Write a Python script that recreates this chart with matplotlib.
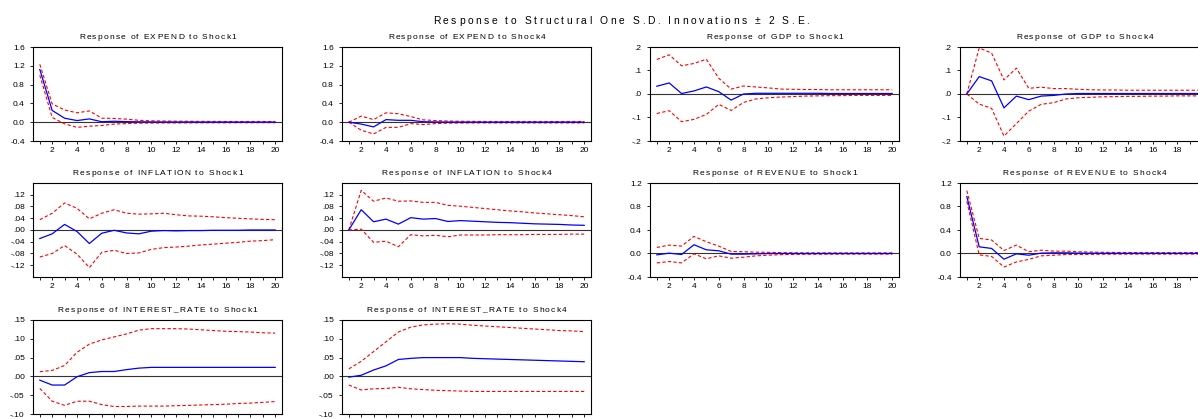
import matplotlib
matplotlib.use("Agg")
import matplotlib.pyplot as plt
from matplotlib.ticker import FixedLocator, MultipleLocator, FuncFormatter
from matplotlib.font_manager import findfont, FontProperties
from matplotlib import ft2font

plt.rcParams['font.family'] = ['Liberation Sans', 'DejaVu Sans']

periods = list(range(1, 21))

# EXPEND to Shock1
expend_s1 = [1.12, 0.25, 0.085, 0.035, 0.07, 0.01, 0.02, 0.012, 0.008, 0.006,
             0.005, 0.004, 0.004, 0.003, 0.003, 0.003, 0.002, 0.002, 0.002, 0.002]
expend_s1_hi = [1.23, 0.39, 0.26, 0.20, 0.24, 0.085, 0.08, 0.065, 0.04, 0.03,
                0.025, 0.022, 0.02, 0.018, 0.017, 0.016, 0.015, 0.015, 0.015, 0.015]
expend_s1_lo = [1.0, 0.10, -0.035, -0.11, -0.085, -0.07, -0.04, -0.03, -0.02, -0.018,
                -0.016, -0.015, -0.014, -0.013, -0.012, -0.012, -0.011, -0.011, -0.01, -0.01]

# EXPEND to Shock4
expend_s4 = [0.0, -0.04, -0.10, 0.055, 0.04, 0.04, 0.01, 0.005, 0.003, 0.002,
             0.002, 0.001, 0.001, 0.001, 0.001, 0.001, 0.001, 0.001, 0.001, 0.001]
expend_s4_hi = [0.0, 0.13, 0.055, 0.20, 0.18, 0.12, 0.05, 0.035, 0.025, 0.02,
                0.018, 0.016, 0.015, 0.015, 0.015, 0.015, 0.015, 0.015, 0.015, 0.015]
expend_s4_lo = [0.0, -0.17, -0.25, -0.11, -0.11, -0.03, -0.05, -0.03, -0.02, -0.018,
                -0.016, -0.015, -0.015, -0.015, -0.015, -0.015, -0.015, -0.015, -0.015, -0.015]

# GDP to Shock1
gdp_s1 = [0.033, 0.047, 0.002, 0.013, 0.03, 0.01, -0.026, 0.0, 0.003, 0.003,
          0.003, 0.003, 0.003, 0.003, 0.002, 0.002, 0.002, 0.002, 0.002, 0.002]
gdp_s1_hi = [0.147, 0.167, 0.12, 0.13, 0.148, 0.067, 0.021, 0.034, 0.03, 0.026,
             0.021, 0.02, 0.019, 0.019, 0.018, 0.018, 0.018, 0.018, 0.018, 0.018]
gdp_s1_lo = [-0.083, -0.071, -0.118, -0.108, -0.087, -0.044, -0.07, -0.036, -0.021, -0.016,
             -0.013, -0.011, -0.009, -0.008, -0.007, -0.007, -0.006, -0.006, -0.006, -0.006]

# GDP to Shock4
gdp_s4 = [0.0, 0.074, 0.056, -0.059, -0.009, -0.024, -0.009, -0.006, 0.0, 0.002,
          0.002, 0.002, 0.002, 0.002, 0.002, 0.002, 0.002, 0.002, 0.002, 0.002]
gdp_s4_hi = [0.0, 0.196, 0.174, 0.06, 0.11, 0.024, 0.029, 0.023, 0.023, 0.02,
             0.018, 0.017, 0.017, 0.016, 0.016, 0.016, 0.016, 0.016, 0.016, 0.016]
gdp_s4_lo = [0.0, -0.043, -0.061, -0.179, -0.126, -0.073, -0.044, -0.037, -0.021, -0.016,
             -0.014, -0.012, -0.011, -0.01, -0.01, -0.009, -0.009, -0.008, -0.008, -0.008]

# INFLATION to Shock1
infl_s1 = [-0.029, -0.013, 0.019, -0.005, -0.046, -0.011, -0.001, -0.01, -0.013, -0.004,
           -0.002, -0.003, -0.002, -0.002, -0.001, -0.001, -0.001, 0.0, 0.0, 0.0]
infl_s1_hi = [0.035, 0.057, 0.092, 0.074, 0.038, 0.057, 0.069, 0.057, 0.054, 0.055,
              0.057, 0.052, 0.048, 0.047, 0.045, 0.042, 0.040, 0.038, 0.036, 0.035]
infl_s1_lo = [-0.092, -0.08, -0.053, -0.082, -0.128, -0.076, -0.069, -0.08, -0.078, -0.066,
              -0.06, -0.058, -0.055, -0.051, -0.048, -0.045, -0.042, -0.038, -0.036, -0.033]

# INFLATION to Shock4
infl_s4 = [0.0, 0.069, 0.028, 0.037, 0.02, 0.042, 0.037, 0.039, 0.029, 0.032,
           0.03, 0.028, 0.026, 0.025, 0.023, 0.021, 0.02, 0.019, 0.017, 0.016]
infl_s4_hi = [0.0, 0.135, 0.098, 0.109, 0.098, 0.099, 0.094, 0.094, 0.084, 0.081,
              0.077, 0.073, 0.069, 0.065, 0.062, 0.058, 0.055, 0.052, 0.049, 0.045]
infl_s4_lo = [0.0, 0.003, -0.042, -0.038, -0.057, -0.016, -0.02, -0.018, -0.023, -0.017,
              -0.017, -0.017, -0.016, -0.016, -0.016, -0.015, -0.015, -0.015, -0.014, -0.014]

# REVENUE to Shock1
rev_s1 = [-0.023, 0.006, -0.017, 0.149, 0.063, 0.046, -0.011, -0.011, -0.006, 0.0,
          0.0, 0.0, 0.0, 0.0, 0.0, 0.0, 0.0, 0.0, 0.0, 0.0]
rev_s1_hi = [0.103, 0.143, 0.126, 0.291, 0.2, 0.126, 0.034, 0.03, 0.023, 0.02,
             0.015, 0.012, 0.011, 0.01, 0.01, 0.01, 0.01, 0.01, 0.01, 0.01]
rev_s1_lo = [-0.16, -0.137, -0.16, -0.006, -0.09, -0.04, -0.08, -0.063, -0.04, -0.029,
             -0.02, -0.015, -0.013, -0.012, -0.011, -0.01, -0.01, -0.01, -0.01, -0.01]

# REVENUE to Shock4
rev_s4 = [0.97, 0.114, 0.086, -0.097, -0.006, -0.029, 0.006, 0.011, 0.011, 0.006,
          0.005, 0.004, 0.004, 0.003, 0.003, 0.003, 0.003, 0.003, 0.003, 0.003]
rev_s4_hi = [1.07, 0.257, 0.23, 0.05, 0.143, 0.03, 0.057, 0.04, 0.04, 0.03,
             0.025, 0.02, 0.018, 0.016, 0.015, 0.015, 0.015, 0.015, 0.015, 0.015]
rev_s4_lo = [0.886, -0.023, -0.05, -0.23, -0.143, -0.1, -0.04, -0.03, -0.017, -0.017,
             -0.015, -0.012, -0.011, -0.01, -0.01, -0.01, -0.01, -0.01, -0.01, -0.01]

# INTEREST_RATE to Shock1
ir_s1 = [-0.01, -0.023, -0.023, -0.001, 0.01, 0.013, 0.013, 0.018, 0.022, 0.024,
         0.024, 0.024, 0.024, 0.024, 0.024, 0.024, 0.024, 0.024, 0.024, 0.024]
ir_s1_hi = [0.0125, 0.016, 0.029, 0.064, 0.086, 0.097, 0.105, 0.113, 0.123, 0.127,
            0.127, 0.127, 0.126, 0.124, 0.122, 0.12, 0.119, 0.118, 0.116, 0.115]
ir_s1_lo = [-0.032, -0.066, -0.077, -0.066, -0.066, -0.075, -0.08, -0.08, -0.079, -0.079,
            -0.079, -0.078, -0.077, -0.076, -0.075, -0.074, -0.072, -0.071, -0.069, -0.067]

# INTEREST_RATE to Shock4
ir_s4 = [-0.002, 0.003, 0.017, 0.028, 0.045, 0.048, 0.05, 0.05, 0.05, 0.05,
         0.048, 0.047, 0.046, 0.045, 0.044, 0.043, 0.042, 0.041, 0.04, 0.039]
ir_s4_hi = [0.02, 0.04, 0.066, 0.092, 0.118, 0.131, 0.137, 0.139, 0.14, 0.139,
            0.136, 0.134, 0.132, 0.13, 0.128, 0.126, 0.124, 0.122, 0.121, 0.119]
ir_s4_lo = [-0.023, -0.036, -0.033, -0.032, -0.029, -0.033, -0.035, -0.037, -0.038, -0.039,
            -0.04, -0.04, -0.04, -0.04, -0.04, -0.04, -0.04, -0.04, -0.04, -0.04]

# y tick values and labels per variable (eviews style)
ticks_expend = [-0.4, 0.0, 0.4, 0.8, 1.2, 1.6]
labels_expend = ["-0.4", "0.0", "0.4", "0.8", "1.2", "1.6"]
ticks_gdp = [-0.2, -0.1, 0.0, 0.1, 0.2]
labels_gdp = ["-.2", "-.1", ".0", ".1", ".2"]
ticks_infl = [-0.12, -0.08, -0.04, 0.0, 0.04, 0.08, 0.12]
labels_infl = ["-.12", "-.08", "-.04", ".00", ".04", ".08", ".12"]
ticks_rev = [-0.4, 0.0, 0.4, 0.8, 1.2]
labels_rev = ["-0.4", "0.0", "0.4", "0.8", "1.2"]
ticks_ir = [-0.10, -0.05, 0.0, 0.05, 0.10, 0.15]
labels_ir = ["-.10", "-.05", ".00", ".05", ".10", ".15"]

panels = [
    ("Response of EXPEND to Shock1", expend_s1, expend_s1_hi, expend_s1_lo, (-0.4, 1.6), ticks_expend, labels_expend),
    ("Response of EXPEND to Shock4", expend_s4, expend_s4_hi, expend_s4_lo, (-0.4, 1.6), ticks_expend, labels_expend),
    ("Response of GDP to Shock1", gdp_s1, gdp_s1_hi, gdp_s1_lo, (-0.2, 0.2), ticks_gdp, labels_gdp),
    ("Response of GDP to Shock4", gdp_s4, gdp_s4_hi, gdp_s4_lo, (-0.2, 0.2), ticks_gdp, labels_gdp),
    ("Response of INFLATION to Shock1", infl_s1, infl_s1_hi, infl_s1_lo, (-0.16, 0.16), ticks_infl, labels_infl),
    ("Response of INFLATION to Shock4", infl_s4, infl_s4_hi, infl_s4_lo, (-0.16, 0.16), ticks_infl, labels_infl),
    ("Response of REVENUE to Shock1", rev_s1, rev_s1_hi, rev_s1_lo, (-0.4, 1.2), ticks_rev, labels_rev),
    ("Response of REVENUE to Shock4", rev_s4, rev_s4_hi, rev_s4_lo, (-0.4, 1.2), ticks_rev, labels_rev),
    ("Response of INTEREST_RATE to Shock1", ir_s1, ir_s1_hi, ir_s1_lo, (-0.10, 0.15), ticks_ir, labels_ir),
    ("Response of INTEREST_RATE to Shock4", ir_s4, ir_s4_hi, ir_s4_lo, (-0.10, 0.15), ticks_ir, labels_ir),
]

W, H = 1198, 419
col_left = [33, 342, 650, 960]
col_width = 249
row_top = [47, 183, 320]
row_height = 94

_font_path = findfont(FontProperties(family='Liberation Sans'))


def spaced_text(fig, s, xc, ybase, size, track):
    # eviews draws its titles letter-spaced, so place glyph by glyph
    font = ft2font.FT2Font(_font_path)
    font.set_size(size, 100)
    adv = []
    for ch in s:
        g = font.load_char(ord(ch))
        adv.append(g.linearHoriAdvance / 65536.0)
    total = sum(adv) + track * (len(s) - 1)
    x = xc - total / 2.0
    for ch, a in zip(s, adv):
        if ch != " ":
            fig.text(x / W, 1 - ybase / H, ch, ha="left", va="baseline",
                     fontsize=size, family="Liberation Sans")
        x += a + track


fig = plt.figure(figsize=(W / 100, H / 100), dpi=100)
spaced_text(fig, "Response to Structural One S.D. Innovations \u00b1 2 S.E.", 621, 24.5, 7.4, 2.6)

for i, (title, resp, hi, lo, ylim, yt, ylab) in enumerate(panels):
    r, c = divmod(i, 4)
    ax = fig.add_axes([col_left[c] / W, 1 - (row_top[r] + row_height) / H,
                       col_width / W, row_height / H])
    ax.axhline(0, color="#333333", lw=0.8, zorder=1)
    ax.plot(periods, hi, color="red", lw=0.8, ls=(0, (3, 2)), zorder=2)
    ax.plot(periods, lo, color="red", lw=0.8, ls=(0, (3, 2)), zorder=2)
    ax.plot(periods, resp, color="blue", lw=0.9, zorder=3)
    ax.set_xlim(0.45, 20.55)
    ax.set_ylim(*ylim)
    ax.xaxis.set_major_locator(MultipleLocator(1))
    ax.xaxis.set_major_formatter(FuncFormatter(lambda v, p: "%d" % v if int(round(v)) % 2 == 0 else ""))
    ax.yaxis.set_major_locator(FixedLocator(yt))
    ax.set_yticklabels(ylab)
    ax.tick_params(labelsize=6, length=2.5, width=0.6)
    ax.tick_params(axis="y", pad=3.5)
    ax.tick_params(axis="x", pad=2)
    for sp in ax.spines.values():
        sp.set_linewidth(0.8)
    spaced_text(fig, title, col_left[c] + col_width / 2.0, row_top[r] - 8.3, 6, 1.25)

fig.savefig("out.png", dpi=100)
